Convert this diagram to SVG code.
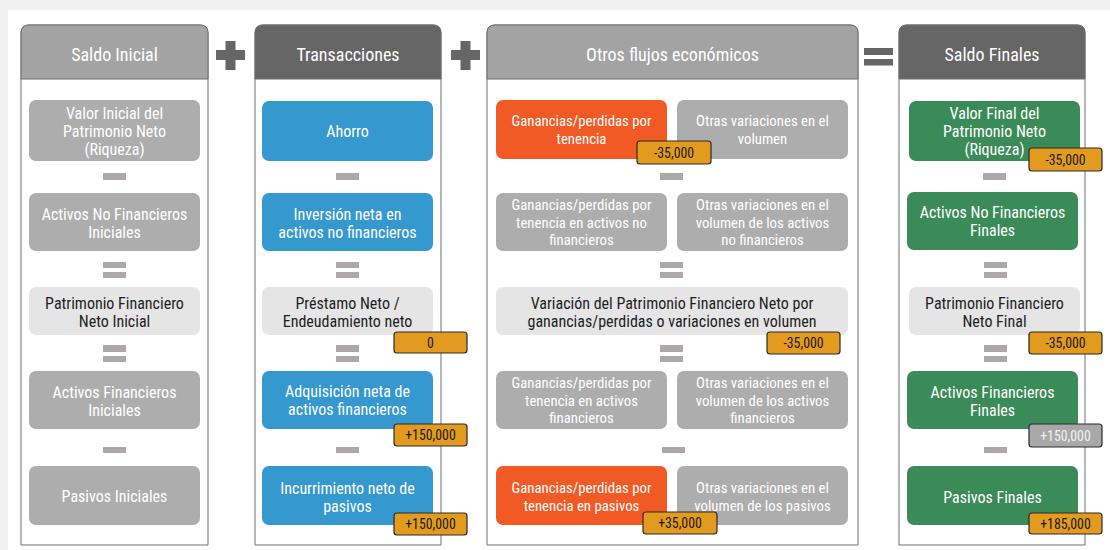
<svg xmlns="http://www.w3.org/2000/svg" width="1110" height="550" viewBox="0 0 1110 550">
  <style>
    text { font-family: "Liberation Sans Narrow", "Arial Narrow", "Roboto Condensed", "Liberation Sans", Arial, sans-serif; text-anchor: middle; }
    .panel { fill: #ffffff; stroke: #6e6e6e; stroke-width: 1; }
    .hdr-light { fill: #a3a3a3; stroke: #6e6e6e; stroke-width: 1; }
    .hdr-dark { fill: #666666; stroke: #6e6e6e; stroke-width: 1; }
    .hdr-text { fill: #ffffff; font-size: 18px; }
    .n-gray { fill: #adadad; }
    .n-light { fill: #e5e5e5; }
    .n-blue { fill: #3598cf; }
    .n-orange { fill: #f15a24; }
    .n-green { fill: #3a8b57; }
    .t-white { fill: #ffffff; font-size: 16px; }
    .t-small { fill: #ffffff; font-size: 14.8px; }
    .t-dark { fill: #1e1e1e; font-size: 16px; }
    .badge { fill: #e39b1f; stroke: #2b2b2b; stroke-width: 1.2; }
    .badge-gray { fill: #a8a8a8; stroke: #2b2b2b; stroke-width: 1.2; }
    .b-text { fill: #1a1a1a; font-size: 13.8px; }
    .b-text-w { fill: #f2f2f2; font-size: 13.8px; }
    .op { fill: #aca8a8; }
    .sign { fill: #666666; }
  </style>

  <!-- page background -->
  <rect x="0" y="0" width="1110" height="550" fill="#f0f0f0"/>
  <rect x="8" y="10" width="1102" height="540" fill="#ffffff"/>

  <!-- column panels with headers -->
  <g id="panel-saldo-inicial">
    <path class="panel" d="M21,545 V33 Q21,25 29,25 H200 Q208,25 208,33 V545 Z"/>
    <path class="hdr-light" d="M21,79 V33 Q21,25 29,25 H200 Q208,25 208,33 V79 Z"/>
    <text class="hdr-text" x="114.5" y="61">Saldo Inicial</text>
  </g>
  <g id="panel-transacciones">
    <path class="panel" d="M255,545 V33 Q255,25 263,25 H433 Q441,25 441,33 V545 Z"/>
    <path class="hdr-dark" d="M255,79 V33 Q255,25 263,25 H433 Q441,25 441,33 V79 Z"/>
    <text class="hdr-text" x="348" y="61">Transacciones</text>
  </g>
  <g id="panel-otros-flujos">
    <path class="panel" d="M487,545 V33 Q487,25 495,25 H850 Q858,25 858,33 V545 Z"/>
    <path class="hdr-light" d="M487,79 V33 Q487,25 495,25 H850 Q858,25 858,33 V79 Z"/>
    <text class="hdr-text" x="672.5" y="61">Otros flujos económicos</text>
  </g>
  <g id="panel-saldo-finales">
    <path class="panel" d="M899,545 V33 Q899,25 907,25 H1077 Q1085,25 1085,33 V545 Z"/>
    <path class="hdr-dark" d="M899,79 V33 Q899,25 907,25 H1077 Q1085,25 1085,33 V79 Z"/>
    <text class="hdr-text" x="992" y="61">Saldo Finales</text>
  </g>

  <!-- operators between and inside columns -->
  <g id="connectors">
    <g id="plus-1" class="sign">
      <rect x="216" y="50" width="29" height="10"/>
      <rect x="225.5" y="41" width="10" height="29"/>
    </g>
    <g id="plus-2" class="sign">
      <rect x="451" y="50" width="29" height="10"/>
      <rect x="460.5" y="41" width="10" height="29"/>
    </g>
    <g id="equals" class="sign">
      <rect x="864" y="48" width="29" height="7"/>
      <rect x="864" y="59" width="29" height="6.5"/>
    </g>

    <!-- column 1 -->
    <g class="op">
      <rect x="103" y="173" width="23" height="7"/>
      <rect x="103" y="262" width="23" height="6"/>
      <rect x="103" y="272" width="23" height="6"/>
      <rect x="103" y="345" width="23" height="7"/>
      <rect x="103" y="356" width="23" height="6"/>
      <rect x="103" y="447" width="23" height="6"/>
    </g>
    <!-- column 2 -->
    <g class="op">
      <rect x="336" y="173" width="23" height="7"/>
      <rect x="336" y="262" width="23" height="6"/>
      <rect x="336" y="272" width="23" height="6"/>
      <rect x="336" y="345" width="23" height="7"/>
      <rect x="336" y="356" width="23" height="6"/>
      <rect x="336" y="447" width="23" height="6"/>
    </g>
    <!-- column 3 -->
    <g class="op">
      <rect x="660" y="173" width="23" height="7"/>
      <rect x="660" y="262" width="23" height="6"/>
      <rect x="660" y="272" width="23" height="6"/>
      <rect x="660" y="345" width="23" height="7"/>
      <rect x="660" y="356" width="23" height="6"/>
      <rect x="662" y="447" width="23" height="6"/>
    </g>
    <!-- column 4 -->
    <g class="op">
      <rect x="983" y="173" width="23" height="7"/>
      <rect x="984" y="262" width="23" height="6"/>
      <rect x="984" y="272" width="23" height="6"/>
      <rect x="984" y="345" width="23" height="7"/>
      <rect x="984" y="356" width="23" height="6"/>
      <rect x="984" y="447" width="23" height="6"/>
    </g>
  </g>

  <!-- column 1: Saldo Inicial -->
  <g id="valor-inicial">
    <rect class="n-gray" x="29" y="100" width="171" height="61" rx="7"/>
    <text class="t-white" x="114.5" y="118.5"><tspan x="114.5">Valor Inicial del</tspan><tspan x="114.5" dy="18">Patrimonio Neto</tspan><tspan x="114.5" dy="18">(Riqueza)</tspan></text>
  </g>
  <g id="activos-no-fin-iniciales">
    <rect class="n-gray" x="29" y="193" width="171" height="58" rx="7"/>
    <text class="t-white" x="114.5" y="219.5"><tspan x="114.5">Activos No Financieros</tspan><tspan x="114.5" dy="18">Iniciales</tspan></text>
  </g>
  <g id="patrimonio-fin-inicial">
    <rect class="n-light" x="29" y="287" width="171" height="48" rx="7"/>
    <text class="t-dark" x="114.5" y="308.5"><tspan x="114.5">Patrimonio Financiero</tspan><tspan x="114.5" dy="18">Neto Inicial</tspan></text>
  </g>
  <g id="activos-fin-iniciales">
    <rect class="n-gray" x="29" y="371" width="171" height="58" rx="7"/>
    <text class="t-white" x="114.5" y="397.5"><tspan x="114.5">Activos Financieros</tspan><tspan x="114.5" dy="18">Iniciales</tspan></text>
  </g>
  <g id="pasivos-iniciales">
    <rect class="n-gray" x="29" y="466" width="171" height="59" rx="7"/>
    <text class="t-white" x="114.5" y="501.5">Pasivos Iniciales</text>
  </g>

  <!-- column 2: Transacciones -->
  <g id="ahorro">
    <rect class="n-blue" x="262" y="101" width="171" height="60" rx="7"/>
    <text class="t-white" x="347.5" y="136.5">Ahorro</text>
  </g>
  <g id="inversion-neta">
    <rect class="n-blue" x="262" y="193" width="171" height="58" rx="7"/>
    <text class="t-white" x="347.5" y="219.5"><tspan x="347.5">Inversión neta en</tspan><tspan x="347.5" dy="18">activos no financieros</tspan></text>
  </g>
  <g id="prestamo-neto">
    <rect class="n-light" x="262" y="287" width="171" height="48" rx="7"/>
    <text class="t-dark" x="347.5" y="308.5"><tspan x="347.5">Préstamo Neto /</tspan><tspan x="347.5" dy="18">Endeudamiento neto</tspan></text>
    <rect class="badge" x="394" y="332" width="73" height="21" rx="3"/>
    <text class="b-text" x="430.5" y="347.5">0</text>
  </g>
  <g id="adquisicion-neta">
    <rect class="n-blue" x="262" y="371" width="171" height="58" rx="7"/>
    <text class="t-white" x="347.5" y="396.5"><tspan x="347.5">Adquisición neta de</tspan><tspan x="347.5" dy="18">activos financieros</tspan></text>
    <rect class="badge" x="394" y="424" width="73" height="22" rx="3"/>
    <text class="b-text" x="430.5" y="440">+150,000</text>
  </g>
  <g id="incurrimiento-neto">
    <rect class="n-blue" x="262" y="466" width="171" height="59" rx="7"/>
    <text class="t-white" x="347.5" y="493.5"><tspan x="347.5">Incurrimiento neto de</tspan><tspan x="347.5" dy="18">pasivos</tspan></text>
    <rect class="badge" x="394" y="513" width="73" height="22" rx="3"/>
    <text class="b-text" x="430.5" y="529">+150,000</text>
  </g>

  <!-- column 3: Otros flujos económicos -->
  <g id="ganancias-tenencia">
    <rect class="n-orange" x="496" y="100" width="171" height="59" rx="7"/>
    <text class="t-small" x="581.5" y="126"><tspan x="581.5">Ganancias/perdidas por</tspan><tspan x="581.5" dy="18">tenencia</tspan></text>
  </g>
  <g id="otras-variaciones">
    <rect class="n-gray" x="677" y="100" width="171" height="59" rx="7"/>
    <text class="t-small" x="762.5" y="126"><tspan x="762.5">Otras variaciones en el</tspan><tspan x="762.5" dy="18">volumen</tspan></text>
  </g>
  <g id="badge-ganancias-tenencia">
    <rect class="badge" x="637" y="141" width="74" height="23" rx="3"/>
    <text class="b-text" x="674" y="157.5">-35,000</text>
  </g>
  <g id="ganancias-activos-no-fin">
    <rect class="n-gray" x="496" y="193" width="171" height="58" rx="7"/>
    <text class="t-small" x="581.5" y="210"><tspan x="581.5">Ganancias/perdidas por</tspan><tspan x="581.5" dy="17.5">tenencia en activos no</tspan><tspan x="581.5" dy="17.5">financieros</tspan></text>
  </g>
  <g id="otras-variaciones-activos-no-fin">
    <rect class="n-gray" x="677" y="193" width="171" height="58" rx="7"/>
    <text class="t-small" x="762.5" y="210"><tspan x="762.5">Otras variaciones en el</tspan><tspan x="762.5" dy="17.5">volumen de los activos</tspan><tspan x="762.5" dy="17.5">no financieros</tspan></text>
  </g>
  <g id="variacion-patrimonio">
    <rect class="n-light" x="496" y="287" width="352" height="48" rx="7"/>
    <text class="t-dark" x="672" y="308.5"><tspan x="672">Variación del Patrimonio Financiero Neto por</tspan><tspan x="672" dy="18">ganancias/perdidas o variaciones en volumen</tspan></text>
    <rect class="badge" x="767" y="332" width="73" height="22" rx="3"/>
    <text class="b-text" x="803.5" y="348">-35,000</text>
  </g>
  <g id="ganancias-activos-fin">
    <rect class="n-gray" x="496" y="371" width="171" height="58" rx="7"/>
    <text class="t-small" x="581.5" y="388"><tspan x="581.5">Ganancias/perdidas por</tspan><tspan x="581.5" dy="17.5">tenencia en activos</tspan><tspan x="581.5" dy="17.5">financieros</tspan></text>
  </g>
  <g id="otras-variaciones-activos-fin">
    <rect class="n-gray" x="677" y="371" width="171" height="58" rx="7"/>
    <text class="t-small" x="762.5" y="388"><tspan x="762.5">Otras variaciones en el</tspan><tspan x="762.5" dy="17.5">volumen de los activos</tspan><tspan x="762.5" dy="17.5">financieros</tspan></text>
  </g>
  <g id="ganancias-pasivos">
    <rect class="n-orange" x="496" y="466" width="171" height="59" rx="7"/>
    <text class="t-small" x="581.5" y="493"><tspan x="581.5">Ganancias/perdidas por</tspan><tspan x="581.5" dy="18">tenencia en pasivos</tspan></text>
  </g>
  <g id="otras-variaciones-pasivos">
    <rect class="n-gray" x="677" y="466" width="171" height="59" rx="7"/>
    <text class="t-small" x="762.5" y="493"><tspan x="762.5">Otras variaciones en el</tspan><tspan x="762.5" dy="18">volumen de los pasivos</tspan></text>
  </g>
  <g id="badge-ganancias-pasivos">
    <rect class="badge" x="643" y="512" width="74" height="22" rx="3"/>
    <text class="b-text" x="680" y="528">+35,000</text>
  </g>

  <!-- column 4: Saldo Finales -->
  <g id="valor-final">
    <rect class="n-green" x="909" y="101" width="171" height="60" rx="7"/>
    <text class="t-white" x="994.5" y="118.5"><tspan x="994.5">Valor Final del</tspan><tspan x="994.5" dy="18">Patrimonio Neto</tspan><tspan x="994.5" dy="18">(Riqueza)</tspan></text>
    <rect class="badge" x="1029" y="148" width="73" height="23" rx="3"/>
    <text class="b-text" x="1065.5" y="164.5">-35,000</text>
  </g>
  <g id="activos-no-fin-finales">
    <rect class="n-green" x="907" y="192" width="171" height="58" rx="7"/>
    <text class="t-white" x="992.5" y="217.5"><tspan x="992.5">Activos No Financieros</tspan><tspan x="992.5" dy="18">Finales</tspan></text>
  </g>
  <g id="patrimonio-fin-final">
    <rect class="n-light" x="909" y="287" width="171" height="48" rx="7"/>
    <text class="t-dark" x="994.5" y="308.5"><tspan x="994.5">Patrimonio Financiero</tspan><tspan x="994.5" dy="18">Neto Final</tspan></text>
    <rect class="badge" x="1029" y="332" width="73" height="22" rx="3"/>
    <text class="b-text" x="1065.5" y="348">-35,000</text>
  </g>
  <g id="activos-fin-finales">
    <rect class="n-green" x="907" y="371" width="171" height="58" rx="7"/>
    <text class="t-white" x="992.5" y="397.5"><tspan x="992.5">Activos Financieros</tspan><tspan x="992.5" dy="18">Finales</tspan></text>
    <rect class="badge-gray" x="1029" y="424" width="73" height="23" rx="3"/>
    <text class="b-text-w" x="1065.5" y="440.5">+150,000</text>
  </g>
  <g id="pasivos-finales">
    <rect class="n-green" x="907" y="466" width="171" height="59" rx="7"/>
    <text class="t-white" x="992.5" y="502.5">Pasivos Finales</text>
    <rect class="badge" x="1029" y="513" width="73" height="21" rx="3"/>
    <text class="b-text" x="1065.5" y="528.5">+185,000</text>
  </g>
</svg>
